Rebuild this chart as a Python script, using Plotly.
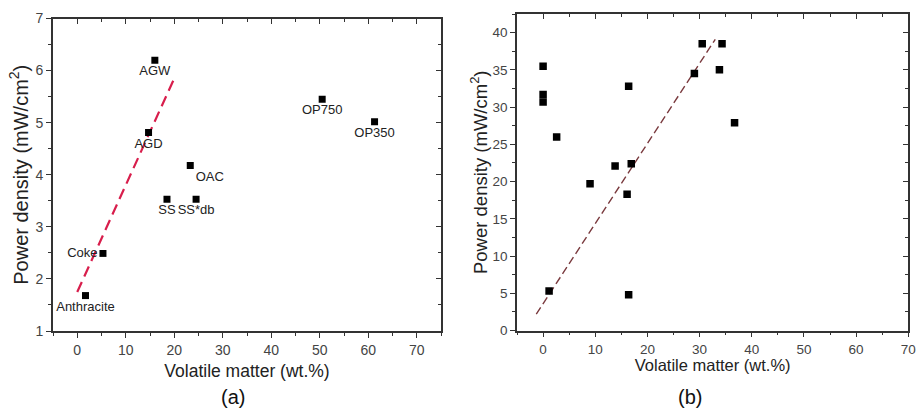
import plotly.graph_objects as go

# ---- Panel (a) data ----
a_names = ["Anthracite", "Coke", "AGD", "AGW", "SS", "SS*db", "OAC", "OP750", "OP350"]
a_x = [1.7, 5.3, 14.7, 16.0, 18.5, 24.5, 23.3, 50.5, 61.3]
a_y = [1.68, 2.49, 4.81, 6.20, 3.53, 3.53, 4.18, 5.45, 5.02]
a_pos = ["bottom center", "middle left", "bottom center", "bottom center", "bottom center",
         "bottom center", "bottom right", "bottom center", "bottom center"]
a_fit_x = [0, 20]
a_fit_y = [1.75, 5.85]

# ---- Panel (b) data ----
b_x = [0.0, 0.0, 0.0, 2.6, 1.15, 9.0, 13.8, 16.9, 16.1, 16.4, 16.4, 29.0, 30.5, 34.3, 33.8, 36.7]
b_y = [35.5, 31.7, 30.7, 26.0, 5.3, 19.7, 22.1, 22.4, 18.3, 32.8, 4.8, 34.5, 38.5, 38.5, 35.0, 27.9]
b_fit_x = [-1.3, 33.0]
b_fit_y = [2.2, 39.1]

FONT = "Liberation Sans, Arial, sans-serif"
AX = "#333333"
TICKF = "#444444"

fig = go.Figure()

# Panel (a)
fig.add_trace(go.Scatter(x=a_fit_x, y=a_fit_y, mode="lines", xaxis="x", yaxis="y",
                         line=dict(color="#d81e4c", width=2.2, dash="11px,6px"),
                         showlegend=False, hoverinfo="skip"))
fig.add_trace(go.Scatter(x=a_x, y=a_y, mode="markers+text", text=a_names,
                         textposition=a_pos, xaxis="x", yaxis="y",
                         textfont=dict(family=FONT, size=13, color="#222222"),
                         marker=dict(symbol="square", size=7, color="black"),
                         showlegend=False))
# Panel (b)
fig.add_trace(go.Scatter(x=b_fit_x, y=b_fit_y, mode="lines", xaxis="x2", yaxis="y2",
                         line=dict(color="#7a3a3e", width=1.4, dash="8px,4px"),
                         showlegend=False, hoverinfo="skip"))
fig.add_trace(go.Scatter(x=b_x, y=b_y, mode="markers", xaxis="x2", yaxis="y2",
                         marker=dict(symbol="square", size=7.5, color="black"),
                         showlegend=False))
# invisible traces for mirror tick axes
fig.add_trace(go.Scatter(x=[None], y=[None], xaxis="x3", yaxis="y3", showlegend=False))
fig.add_trace(go.Scatter(x=[None], y=[None], xaxis="x4", yaxis="y4", showlegend=False))

dom_ax = [53/917, 441/917]
dom_ay = [1 - 331/411, 1 - 18.5/411]
dom_bx = [517/917, 908.3/917]
dom_by = [1 - 330.5/411, 1 - 14/411]

def main_axis(rng, dtick, mdtick, dom, anchor, tsize, title, tfont, standoff):
    return dict(range=rng, domain=dom, anchor=anchor, dtick=dtick, tick0=0,
                showline=True, linecolor=AX, linewidth=1.6, mirror=True,
                ticks="outside", ticklen=5, tickwidth=1.3, tickcolor=AX,
                minor=dict(dtick=mdtick, tick0=0, ticks="outside", ticklen=3, tickwidth=1.1, tickcolor=AX),
                showgrid=False, zeroline=False, automargin=False,
                tickfont=dict(family=FONT, size=tsize, color=TICKF),
                title=dict(text=title, font=dict(family=FONT, size=tfont, color="#222222"), standoff=standoff))

def mirror_axis(rng, dtick, mdtick, dom, anchor, over, side):
    return dict(range=rng, domain=dom, anchor=anchor, overlaying=over, side=side,
                dtick=dtick, tick0=0, showline=False, showticklabels=False,
                ticks="inside", ticklen=5, tickwidth=1.3, tickcolor=AX,
                minor=dict(dtick=mdtick, tick0=0, ticks="inside", ticklen=3, tickwidth=1.1, tickcolor=AX),
                showgrid=False, zeroline=False, automargin=False)

xa_title = "Volatile matter (wt.%)"
ya_title = "Power density (mW/cm<sup>2</sup>)"

fig.update_layout(
    width=917, height=411,
    margin=dict(l=0, r=0, t=0, b=0),
    paper_bgcolor="white", plot_bgcolor="white",
    xaxis=main_axis([-5, 75], 10, 5, dom_ax, "y", 14, xa_title, 17.5, 8),
    yaxis=main_axis([1, 7], 1, 0.5, dom_ay, "x", 14, ya_title, 20, 2),
    xaxis2=main_axis([-5, 70], 10, 5, dom_bx, "y2", 13.5, xa_title, 16.5, 2),
    yaxis2=main_axis([0, 42.5], 5, 2.5, dom_by, "x2", 13.5, ya_title, 18.5, 0),
    xaxis3=mirror_axis([-5, 75], 10, 5, dom_ax, "y", "x", "top"),
    yaxis3=mirror_axis([1, 7], 1, 0.5, dom_ay, "x", "y", "right"),
    xaxis4=mirror_axis([-5, 70], 10, 5, dom_bx, "y2", "x2", "top"),
    yaxis4=mirror_axis([0, 42.5], 5, 2.5, dom_by, "x2", "y2", "right"),
    annotations=[
        dict(text="(a)", x=233/917, y=1 - 397/411, xref="paper", yref="paper",
             xanchor="center", yanchor="middle",
             showarrow=False, font=dict(family=FONT, size=20, color="#111111")),
        dict(text="(b)", x=690/917, y=1 - 397/411, xref="paper", yref="paper",
             xanchor="center", yanchor="middle",
             showarrow=False, font=dict(family=FONT, size=20, color="#111111")),
    ],
)

fig.write_html("out.html")
